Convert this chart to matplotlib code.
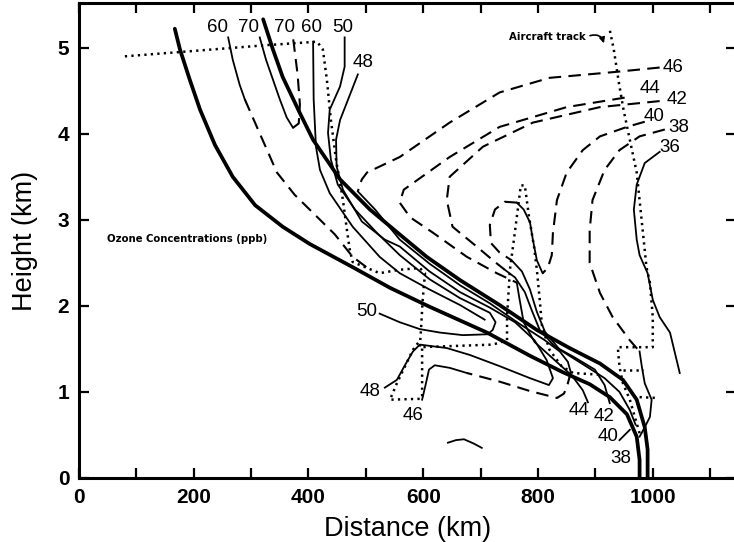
import matplotlib
matplotlib.use("Agg")
import matplotlib.pyplot as plt

plt.rcParams['font.family'] = ['Liberation Sans', 'DejaVu Sans']

# ---- axis ticks ----
x_ticks = [0, 100, 200, 300, 400, 500, 600, 700, 800, 900, 1000, 1100]
x_tick_labels = ['0', '', '200', '', '400', '', '600', '', '800', '', '1000', '']
y_ticks = [0, 1, 2, 3, 4, 5]
y_tick_labels = ['0', '1', '2', '3', '4', '5']

# ---- thick boundary curves (distance km, height km) ----
thickA_x = [167, 176, 193, 211, 237, 268, 307, 355, 402, 477, 542, 611, 711, 786, 843, 890, 925, 955, 972, 977, 977]
thickA_y = [5.22, 4.98, 4.63, 4.28, 3.87, 3.50, 3.17, 2.92, 2.72, 2.45, 2.21, 1.99, 1.69, 1.42, 1.23, 1.09, 0.94, 0.74, 0.48, 0.21, 0.0]
thickB_x = [321, 338, 355, 385, 408, 455, 507, 559, 606, 664, 733, 798, 855, 908, 948, 972, 986, 991, 991]
thickB_y = [5.33, 4.98, 4.66, 4.24, 3.93, 3.47, 3.12, 2.83, 2.57, 2.30, 2.01, 1.72, 1.51, 1.33, 1.14, 0.91, 0.59, 0.33, 0.0]

# ---- ozone contours ----
c60a_sol_x = [260, 268, 280, 289]
c60a_sol_y = [5.12, 4.86, 4.57, 4.40]
c60a_dash_x = [289, 312, 345, 376, 408, 446, 477, 503]
c60a_dash_y = [4.40, 4.05, 3.55, 3.29, 3.08, 2.83, 2.57, 2.44]

c70_sol_x = [315, 326, 338, 350, 362, 373]
c70_sol_y = [5.12, 4.86, 4.63, 4.40, 4.19, 4.07]
c70_dash_x = [373, 383, 385, 381, 373]
c70_dash_y = [4.07, 4.12, 4.34, 4.69, 5.12]

c60b_x = [408, 409, 413, 420, 437, 477, 524, 559, 611, 664, 707]
c60b_y = [5.07, 4.40, 3.85, 3.58, 3.31, 2.92, 2.57, 2.38, 2.19, 2.01, 1.84]

c50_x = [463, 463, 455, 437, 434, 439, 451, 481, 519, 559, 611, 664, 716, 726, 721, 712, 669, 629, 594, 559, 524]
c50_y = [5.12, 4.78, 4.55, 4.28, 4.01, 3.70, 3.41, 3.12, 2.85, 2.59, 2.31, 2.09, 1.92, 1.81, 1.72, 1.67, 1.66, 1.69, 1.73, 1.81, 1.91]

c48_x = [486, 472, 455, 448, 449, 460, 493, 533, 559, 611, 664, 716, 760, 794, 815, 826, 819, 786, 733, 681, 641, 594, 582, 568, 554, 533]
c48_y = [4.69, 4.45, 4.16, 3.93, 3.62, 3.35, 2.98, 2.77, 2.69, 2.40, 2.16, 1.98, 1.81, 1.60, 1.37, 1.16, 1.08, 1.16, 1.30, 1.43, 1.51, 1.55, 1.47, 1.31, 1.14, 1.05]

c46_dash_x = [1012, 937, 820, 733, 646, 559, 502, 493, 489, 486]
c46_dash_y = [4.77, 4.72, 4.65, 4.48, 4.13, 3.73, 3.55, 3.47, 3.40, 3.33]
c46_sol_x = [486, 516, 559, 611, 664, 716, 768, 812, 838, 852, 857]
c46_sol_y = [3.33, 3.12, 2.77, 2.49, 2.24, 2.03, 1.79, 1.60, 1.47, 1.35, 1.23]
c46_low_dash_x = [857, 854, 850, 845, 833, 786, 733, 676]
c46_low_dash_y = [1.23, 1.15, 1.05, 0.98, 0.93, 1.01, 1.12, 1.22]
c46_low_sol_x = [676, 646, 620, 610, 604, 598]
c46_low_sol_y = [1.22, 1.28, 1.31, 1.26, 1.08, 0.91]

c44_dash_x = [951, 850, 733, 646, 566, 559, 577, 617, 676, 728, 763]
c44_dash_y = [4.42, 4.31, 4.08, 3.73, 3.35, 3.20, 3.03, 2.85, 2.57, 2.38, 2.27]
c44_sol_x = [763, 768, 775, 794, 829, 859, 878, 887]
c44_sol_y = [2.27, 2.07, 1.81, 1.58, 1.37, 1.19, 1.02, 0.88]

c42_dash_x = [1012, 908, 791, 704, 646, 641, 651, 693, 725, 742]
c42_dash_y = [4.38, 4.31, 4.13, 3.85, 3.50, 3.23, 2.92, 2.69, 2.51, 2.42]
c42_sol_x = [742, 760, 777, 789, 803, 829, 864, 899, 916, 925]
c42_sol_y = [2.42, 2.33, 2.16, 1.95, 1.72, 1.53, 1.40, 1.26, 1.08, 0.87]

c40_dash_x = [986, 955, 908, 878, 850, 833, 826, 824, 817, 808]
c40_dash_y = [4.14, 4.08, 3.97, 3.81, 3.55, 3.23, 2.85, 2.59, 2.44, 2.38]
c40_spike_x = [808, 798, 791, 786, 775, 763]
c40_spike_y = [2.38, 2.53, 2.77, 2.97, 3.12, 3.20]
c40_loop_x = [763, 742, 725, 716, 718, 733, 754]
c40_loop_y = [3.20, 3.21, 3.12, 2.94, 2.73, 2.62, 2.53]
c40_sol_x = [754, 772, 786, 798, 812, 838, 881, 916, 942, 960, 970]
c40_sol_y = [2.53, 2.40, 2.19, 1.93, 1.70, 1.49, 1.31, 1.16, 1.00, 0.79, 0.62]

c38_dash_x = [1021, 977, 942, 916, 895, 890, 890, 908, 930, 960, 977]
c38_dash_y = [4.05, 3.97, 3.81, 3.58, 3.23, 2.88, 2.50, 2.15, 1.87, 1.60, 1.47]
c38_sol_x = [977, 981, 986, 998, 995, 986, 977]
c38_sol_y = [1.47, 1.29, 1.10, 0.91, 0.71, 0.59, 0.48]

c36_x = [1012, 986, 972, 967, 972, 977, 991, 1000, 1012, 1030, 1047]
c36_y = [3.79, 3.66, 3.41, 3.12, 2.77, 2.59, 2.38, 2.07, 1.87, 1.69, 1.22]

squiggle_x = [643, 657, 671, 688, 702]
squiggle_y = [0.41, 0.44, 0.45, 0.40, 0.35]

# ---- aircraft track (dotted) ----
track1_x = [80, 176, 327, 415, 425, 432, 439, 448, 460, 467, 472, 477, 524, 559, 594, 603, 599, 596, 594,
            721, 746, 746, 751, 758, 763, 770, 777, 784, 793, 798, 803, 807, 820, 841, 861, 908]
track1_y = [4.90, 4.95, 5.03, 5.07, 4.98, 4.63, 4.16, 3.70, 3.23, 2.88, 2.65, 2.51, 2.38, 2.42, 2.44, 2.38, 2.07, 1.72, 1.52,
            1.55, 1.60, 1.87, 2.42, 2.77, 3.03, 3.40, 3.40, 3.05, 2.69, 2.42, 2.07, 1.76, 1.49, 1.30, 1.22, 1.20]
track2_x = [591, 582, 554, 542, 594, 598, 598]
track2_y = [1.57, 1.49, 1.10, 0.91, 0.92, 0.93, 1.52]
track3_x = [977, 960, 948, 942, 939, 1000, 1000, 995, 989, 977, 972, 960, 949, 941, 932, 925]
track3_y = [0.52, 0.91, 1.10, 1.29, 1.52, 1.52, 1.87, 2.27, 2.45, 3.23, 3.55, 3.93, 4.28, 4.59, 4.98, 5.21]
track4_x = [948, 983]
track4_y = [1.26, 1.26]
track5_x = [977, 1007]
track5_y = [0.94, 0.93]

# ---- contour labels ----
top_labels = ['60', '70', '70', '60', '50', '48']
top_lab_x = [242, 296, 359, 406, 460, 495]
top_lab_y = [5.23, 5.23, 5.23, 5.23, 5.23, 4.83]
right_labels = ['46', '44', '42', '40', '38', '36']
right_lab_x = [1036, 995, 1042, 1003, 1045, 1030]
right_lab_y = [4.77, 4.53, 4.40, 4.20, 4.07, 3.84]
bottom_labels = ['50', '48', '46', '44', '42', '40', '38']
bottom_lab_x = [502, 507, 582, 871, 915, 922, 944]
bottom_lab_y = [1.93, 1.00, 0.73, 0.78, 0.72, 0.48, 0.23]

fig = plt.figure(figsize=(7.34, 5.42), dpi=100)
ax = fig.add_axes([0.1076, 0.1181, 0.8951, 0.8764])

thick = dict(color='black', lw=2.7, solid_capstyle='round', solid_joinstyle='round')
thin = dict(color='black', lw=1.3, solid_joinstyle='round')
dash = dict(color='black', lw=1.5, linestyle=(0, (6, 3.5)))
dot = dict(color='black', lw=1.8, linestyle=(0, (0.9, 1.7)))

ax.plot(thickA_x, thickA_y, **thick)
ax.plot(thickB_x, thickB_y, **thick)

for xs, ys in [(c60a_sol_x, c60a_sol_y), (c70_sol_x, c70_sol_y), (c60b_x, c60b_y),
               (c50_x, c50_y), (c48_x, c48_y), (c46_sol_x, c46_sol_y),
               (c46_low_sol_x, c46_low_sol_y), (c44_sol_x, c44_sol_y),
               (c42_sol_x, c42_sol_y), (c40_spike_x, c40_spike_y),
               (c40_sol_x, c40_sol_y), (c38_sol_x, c38_sol_y), (c36_x, c36_y),
               (squiggle_x, squiggle_y)]:
    ax.plot(xs, ys, **thin)

for xs, ys in [(c60a_dash_x, c60a_dash_y), (c70_dash_x, c70_dash_y),
               (c46_dash_x, c46_dash_y), (c46_low_dash_x, c46_low_dash_y),
               (c44_dash_x, c44_dash_y), (c42_dash_x, c42_dash_y),
               (c40_dash_x, c40_dash_y), (c40_loop_x, c40_loop_y),
               (c38_dash_x, c38_dash_y)]:
    ax.plot(xs, ys, **dash)

for xs, ys in [(track1_x, track1_y), (track2_x, track2_y), (track3_x, track3_y),
               (track4_x, track4_y), (track5_x, track5_y)]:
    ax.plot(xs, ys, **dot)

# leader for the bottom "40"
ax.plot([942, 960], [0.44, 0.56], **thin)

for labs, xs, ys in [(top_labels, top_lab_x, top_lab_y),
                     (right_labels, right_lab_x, right_lab_y),
                     (bottom_labels, bottom_lab_x, bottom_lab_y)]:
    for t, x, y in zip(labs, xs, ys):
        ax.text(x, y, t, fontsize=13.5, ha='center', va='center')

ax.text(188, 2.78, 'Ozone Concentrations (ppb)', fontsize=7.3, fontweight='bold',
        family='DejaVu Sans', ha='center', va='center')
ax.text(817, 5.13, 'Aircraft track', fontsize=7.3, fontweight='bold',
        family='DejaVu Sans', ha='center', va='center')
ax.annotate('', xy=(916, 5.02), xytext=(886, 5.13),
            arrowprops=dict(arrowstyle='-|>', connectionstyle='arc3,rad=-0.6',
                            lw=1.2, color='black', mutation_scale=8))

ax.set_xlim(0, 1145)
ax.set_ylim(0, 5.52)
ax.set_xticks(x_ticks)
ax.set_xticklabels(x_tick_labels)
ax.set_yticks(y_ticks)
ax.set_yticklabels(y_tick_labels)
ax.tick_params(direction='in', length=7, width=1.6, top=True, right=True,
               labelsize=15, pad=7)
for lab in ax.get_xticklabels() + ax.get_yticklabels():
    lab.set_fontweight('bold')
for sp in ax.spines.values():
    sp.set_linewidth(2.2)

ax.set_xlabel('Distance (km)', fontsize=19.5, labelpad=7)
ax.set_ylabel('Height (km)', fontsize=19.5, labelpad=14)

fig.savefig('out.png', dpi=100)
